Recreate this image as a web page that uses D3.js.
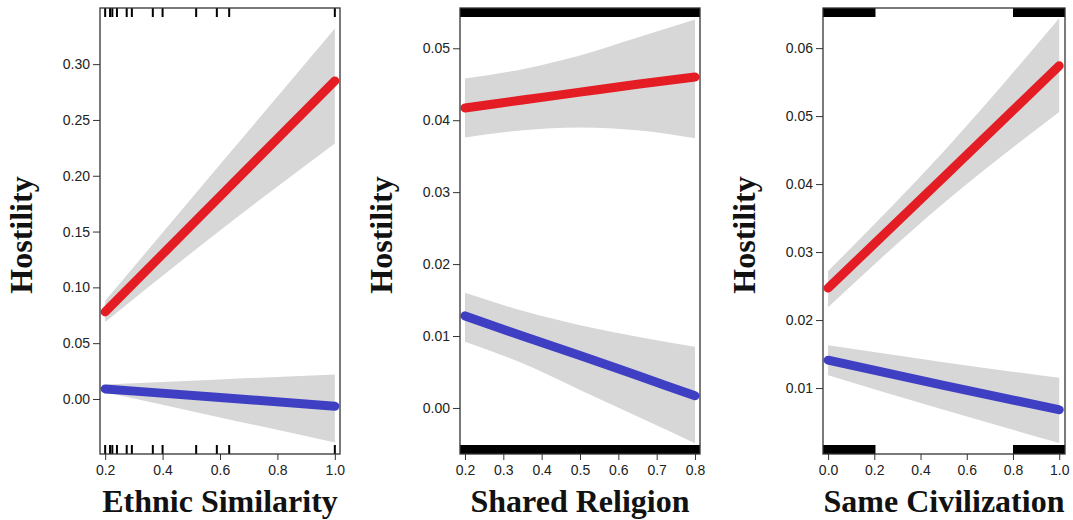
<!DOCTYPE html>
<html>
<head>
<meta charset="utf-8">
<script src="https://cdn.jsdelivr.net/npm/d3@7"></script>
<style>
  body { margin: 0; background: #fff; }
  svg { display: block; }
</style>
</head>
<body>
<svg id="chart" width="1073" height="520"></svg>
<script>
// ---- data ----
var panelTitles = ['Ethnic Similarity', 'Shared Religion', 'Same Civilization'];
var yTitle = 'Hostility';

// Ethnic Similarity
var ethnicX = [0.2, 0.6, 1.0];
var ethnicRed = [0.078, 0.1815, 0.285];
var ethnicRedLo = [0.069, 0.151, 0.229];
var ethnicRedHi = [0.088, 0.210, 0.332];
var ethnicBlue = [0.009, 0.0013, -0.0065];
var ethnicBlueLo = [0.006, -0.0165, -0.039];
var ethnicBlueHi = [0.013, 0.0175, 0.022];
var ethnicRug = [0.2, 0.217, 0.225, 0.241, 0.275, 0.293, 0.366, 0.4, 0.517, 0.589, 0.632, 1.0];
var ethnicXTicks = [0.2, 0.4, 0.6, 0.8, 1.0];
var ethnicYTicks = [0.00, 0.05, 0.10, 0.15, 0.20, 0.25, 0.30];

// Shared Religion
var religionX = [0.2, 0.35, 0.5, 0.65, 0.8];
var religionRed = [0.0417, 0.0428, 0.0439, 0.0450, 0.0460];
var religionRedLo = [0.0376, 0.0386, 0.0390, 0.0386, 0.0375];
var religionRedHi = [0.0458, 0.0471, 0.0490, 0.0515, 0.0540];
var religionBlue = [0.0128, 0.0100, 0.0073, 0.0045, 0.0017];
var religionBlueLo = [0.0092, 0.0062, 0.0025, -0.0012, -0.0049];
var religionBlueHi = [0.0160, 0.0135, 0.0115, 0.0099, 0.0085];
var religionRugSpans = [[0.18, 0.82]];
var religionXTicks = [0.2, 0.3, 0.4, 0.5, 0.6, 0.7, 0.8];
var religionYTicks = [0.00, 0.01, 0.02, 0.03, 0.04, 0.05];

// Same Civilization
var civX = [0.0, 0.5, 1.0];
var civRed = [0.0247, 0.0410, 0.0574];
var civRedLo = [0.0219, 0.0372, 0.0506];
var civRedHi = [0.0272, 0.0448, 0.0644];
var civBlue = [0.0141, 0.0104, 0.0068];
var civBlueLo = [0.0119, 0.0068, 0.0019];
var civBlueHi = [0.0163, 0.0138, 0.0115];
var civRugSpans = [[-0.03, 0.205], [0.8, 1.03]];
var civXTicks = [0.0, 0.2, 0.4, 0.6, 0.8, 1.0];
var civYTicks = [0.01, 0.02, 0.03, 0.04, 0.05, 0.06];

(function() {
  var RED = '#e41d25', BLUE = '#3f3fc4', BAND = '#d7d7d7';

  function zipSeries(xs, mid, lo, hi) {
    return xs.map(function(x, i) { return { x: x, y: mid[i], lo: lo[i], hi: hi[i] }; });
  }

  var panels = [
    { title: panelTitles[0], left: 100, right: 340, xDomain: [0.182, 1.018], yDomain: [-0.0493, 0.3503],
      xTicks: ethnicXTicks, yTicks: ethnicYTicks, rug: ethnicRug, spans: null,
      series: [ { color: RED, pts: zipSeries(ethnicX, ethnicRed, ethnicRedLo, ethnicRedHi) },
                { color: BLUE, pts: zipSeries(ethnicX, ethnicBlue, ethnicBlueLo, ethnicBlueHi) } ] },
    { title: panelTitles[1], left: 460, right: 700, xDomain: [0.187, 0.813], yDomain: [-0.0064, 0.0556],
      xTicks: religionXTicks, yTicks: religionYTicks, rug: null, spans: religionRugSpans,
      series: [ { color: RED, pts: zipSeries(religionX, religionRed, religionRedLo, religionRedHi) },
                { color: BLUE, pts: zipSeries(religionX, religionBlue, religionBlueLo, religionBlueHi) } ] },
    { title: panelTitles[2], left: 823, right: 1065, xDomain: [-0.022, 1.025], yDomain: [0.0003, 0.0659],
      xTicks: civXTicks, yTicks: civYTicks, rug: null, spans: civRugSpans,
      series: [ { color: RED, pts: zipSeries(civX, civRed, civRedLo, civRedHi) },
                { color: BLUE, pts: zipSeries(civX, civBlue, civBlueLo, civBlueHi) } ] }
  ];

  var plotTop = 8, plotBottom = 454, rugLen = 9;
  var svg = d3.select('#chart');

  panels.forEach(function(p, idx) {
    var x = d3.scaleLinear().domain(p.xDomain).range([p.left, p.right]);
    var y = d3.scaleLinear().domain(p.yDomain).range([plotBottom, plotTop]);
    var g = svg.append('g');

    g.append('clipPath').attr('id', 'clip' + idx)
      .append('rect').attr('x', p.left).attr('y', plotTop)
      .attr('width', p.right - p.left).attr('height', plotBottom - plotTop);

    var plot = g.append('g').attr('clip-path', 'url(#clip' + idx + ')');

    // confidence bands
    var area = d3.area()
      .x(function(d) { return x(d.x); })
      .y0(function(d) { return y(d.lo); })
      .y1(function(d) { return y(d.hi); })
      .curve(d3.curveMonotoneX);
    p.series.forEach(function(s) {
      plot.append('path').datum(s.pts).attr('d', area).attr('fill', BAND);
    });

    // fitted lines
    var line = d3.line()
      .x(function(d) { return x(d.x); })
      .y(function(d) { return y(d.y); })
      .curve(d3.curveMonotoneX);
    p.series.forEach(function(s) {
      plot.append('path').datum(s.pts).attr('d', line)
        .attr('fill', 'none').attr('stroke', s.color)
        .attr('stroke-width', 9).attr('stroke-linecap', 'round');
    });

    // rugs
    if (p.rug) {
      [plotTop, plotBottom - rugLen].forEach(function(y0) {
        plot.selectAll(null).data(p.rug).enter().append('line')
          .attr('x1', function(d) { return x(d); }).attr('x2', function(d) { return x(d); })
          .attr('y1', y0).attr('y2', y0 + rugLen)
          .attr('stroke', '#000').attr('stroke-width', 2);
      });
    }
    if (p.spans) {
      [plotTop, plotBottom - rugLen].forEach(function(y0) {
        plot.selectAll(null).data(p.spans).enter().append('rect')
          .attr('x', function(d) { return x(d[0]); })
          .attr('width', function(d) { return x(d[1]) - x(d[0]); })
          .attr('y', y0).attr('height', rugLen)
          .attr('fill', '#000');
      });
    }

    // box
    g.append('rect').attr('x', p.left).attr('y', plotTop)
      .attr('width', p.right - p.left).attr('height', plotBottom - plotTop)
      .attr('fill', 'none').attr('stroke', '#333').attr('stroke-width', 1.3);

    // axes
    var yAxis = g.append('g').attr('transform', 'translate(' + p.left + ',0)')
      .call(d3.axisLeft(y).tickValues(p.yTicks).tickSize(7).tickPadding(3).tickFormat(d3.format('.2f')));
    var xAxis = g.append('g').attr('transform', 'translate(0,' + plotBottom + ')')
      .call(d3.axisBottom(x).tickValues(p.xTicks).tickSize(6).tickPadding(5).tickFormat(d3.format('.1f')));
    [yAxis, xAxis].forEach(function(a) {
      a.select('.domain').remove();
      a.selectAll('line').attr('stroke', '#333');
      a.selectAll('text').attr('fill', '#222')
        .style('font-family', '"Liberation Sans", Arial, sans-serif').style('font-size', '14px');
    });

    // titles
    g.append('text')
      .attr('x', (p.left + p.right) / 2).attr('y', 512)
      .attr('text-anchor', 'middle')
      .style('font-family', '"Liberation Serif", "Times New Roman", serif')
      .style('font-weight', 'bold').style('font-size', '32px').attr('fill', '#111')
      .text(p.title);
    g.append('text')
      .attr('transform', 'translate(' + (p.left - 68) + ',' + ((plotTop + plotBottom) / 2 + 4) + ') rotate(-90)')
      .attr('text-anchor', 'middle')
      .style('font-family', '"Liberation Serif", "Times New Roman", serif')
      .style('font-weight', 'bold').style('font-size', '32px').attr('fill', '#111')
      .text(yTitle);
  });
})();
</script>
</body>
</html>
